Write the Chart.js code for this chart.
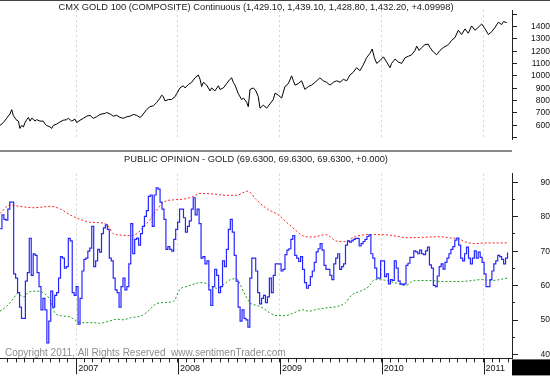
<!DOCTYPE html>
<html><head><meta charset="utf-8">
<script src="https://cdn.jsdelivr.net/npm/chart.js@4/dist/chart.umd.min.js"></script>
<style>
html,body{margin:0;padding:0;background:#fff;}
#wrap{position:relative;width:550px;height:382px;overflow:hidden;background:#fff;}
#c1{position:absolute;left:0;top:0;width:550px;height:150px;}
#c2{position:absolute;left:0;top:150px;width:550px;height:232px;}
</style></head><body>
<div id="wrap"><canvas id="c1" width="550" height="150"></canvas><canvas id="c2" width="550" height="232"></canvas></div>
<script>
// ---------------- DATA ----------------
const startDate = [2006, 3, 3];            // first weekly observation (3 Apr 2006)
const endWeek = 262.3;                     // right edge of the time axis, in weeks
const yearLabels = ['2007', '2008', '2009', '2010', '2011'];
const goldTitle = 'CMX GOLD 100 (COMPOSITE) Continuous (1,429.10, 1,439.10, 1,428.80, 1,432.20, +4.09998)';
const opinionTitle = 'PUBLIC OPINION - GOLD (69.6300, 69.6300, 69.6300, +0.000)';
const copyright = 'Copyright 2011, All Rights Reserved  www.sentimenTrader.com';

const goldWeek = [0,1.7,3.4,5.1,6,6.8,8.2,9.4,10.2,11.1,12,12.8,13.7,14.5,15.4,16.2,17.1,17.9,18.8,20.5,22.2,23.1,23.9,25.6,26.5,27.3,29,30.7,32.4,34.2,35,36.7,38.4,39.3,41,42.7,44.4,46.1,47.8,49.5,51.2,53.8,54.6,56.4,58.1,59.8,61.5,63.2,64.9,66.6,68.3,70,71.7,72.6,73.4,75.1,76.8,78.6,80.3,82,82.8,83.7,84.5,86.2,87.9,89.7,90.5,92.2,93.9,94.8,96.5,98.2,99.9,101.6,102.5,103.3,104.2,105.9,107.6,108.4,110.1,111.9,112.7,114.4,116.1,117.8,118.7,119.5,120.4,122.1,123.8,124.7,126.4,127.2,128.1,129.8,131.1,132.3,133.2,134.9,136.6,138.3,140,140.9,142.6,144.3,146,147.7,149.4,150.3,151.1,152.8,154.5,156.2,158,159.7,161.4,163.9,165.6,167.3,169.1,170.8,172.5,174.2,175.9,177.6,179.3,181,182.7,184.4,186.1,187.8,189.5,190.7,191.8,193,194.7,196.4,198.1,199.8,200.6,202.4,204.1,205.8,207.5,209.2,210.9,212.6,213.5,214.7,216,217.7,219.4,220.3,222,223.7,225.4,227.1,229.7,231.4,233.1,234.8,236.5,238.2,239.9,241.6,243.3,245,246.8,248.5,250.2,251.9,253.6,255.3,257,257.9,259.6];
const goldValue = [598,621,656,691,726,680,645,633,574,598,586,621,645,663,633,656,649,633,645,633,633,609,598,586,574,598,609,626,640,645,656,633,649,621,640,656,673,680,656,668,687,696,703,691,673,680,663,656,668,673,687,680,663,673,691,726,750,757,785,820,843,832,797,808,808,832,855,902,920,902,930,948,984,1007,972,914,948,925,878,902,878,920,890,902,937,972,984,948,925,855,808,820,785,750,890,902,878,832,738,762,738,773,808,860,843,820,914,937,1000,960,925,937,960,890,914,925,948,984,960,948,925,948,960,948,972,960,1007,1030,1066,1042,1089,1147,1182,1218,1147,1101,1124,1154,1112,1066,1101,1136,1112,1101,1147,1159,1171,1206,1241,1206,1229,1253,1257,1229,1194,1171,1206,1229,1253,1288,1311,1370,1335,1381,1346,1405,1370,1393,1421,1381,1335,1358,1393,1435,1416,1440,1432.2];

// weekly public opinion readings
const opinion = [
76.5,80.5,79.25,79,82.2,84.25,84.25,63.4,62.2,58,53.8,50.5,50.5,61.3,63.8,73.7,63,69.2,68.8,63.8,59.7,53,56.3,53,43.4,49.7,58.4,53.8,57.2,58,62.2,68.4,68,65.1,65.5,73.7,73,58,57.2,59.7,48.8,56.3,64.25,67.6,
68,70,70.9,77.2,65.5,67.2,70.5,69.7,75.1,76.75,77.6,76.3,68,67.2,62.2,58.8,58,53.8,59.7,62.2,58.8,59.7,66.3,78,69.25,73.4,73.8,71.75,75.1,77.2,80.1,81.75,85.9,86.3,77.2,86.3,88.4,88,84.25,82.2,79.25,70.5,71.3,70.5,
70,73.4,76.3,78.4,82.2,82.2,79.7,75.5,77.2,78.8,82.2,85.5,80.5,82.2,78,68,68.4,66.3,67.2,58.8,54.25,59.7,64.7,63,58,59.7,67.2,65.5,70.5,76.3,79.25,75.5,68.8,61.3,53.8,49.7,53,50.5,50.1,48,62.2,68,68,64.25,
58,54.7,56.3,57.2,55.1,56.75,62.2,58,63,66.3,66.3,66.3,64.25,64.7,69,70.3,70.7,73.4,74.5,68.8,68,67,68.4,64.7,60.9,59.25,60.1,62.6,64.25,66.75,69.8,70.7,72.2,70.3,65.9,64.7,64.7,63,61.75,66.3,68,69.25,64.7,65.5,
66.3,71.75,73,72.6,73,73.4,73.7,73.7,71.5,72.2,72.8,73.4,74.25,74.7,69.25,68,65.1,62.2,62.2,67.2,67.2,62.6,63.4,60.5,61.75,61.5,67.2,65.1,61.3,60.5,60.3,60.5,65.9,66.5,68.2,68.2,70.1,69.8,69.25,70.3,69.25,69,70.1,71.2,
66,65.1,60.1,59.7,62.8,65.5,66.3,64.8,66.75,68,69.25,70.5,71.3,73.2,73.8,71.75,68,67.2,69.25,71.2,68,66.3,68,70.1,68,69.7,68.2,66.75,63.4,59.7,59.7,61.75,64.25,66.3,67.2,68.8,68.4,67.6,66.3,68,69.63];

const upperWeek = [0,5,10,17,26,31,36,41,46,51,55,58,61,67,70,73,77,80,84,89,94,99,102,109,116,121,127,131,137,142,146,151,155,160,167,172,177,182,190,199,204,209,216,225,231,235,238,243,250,260];
const upperBand = [80.9,83.4,83,82.6,83,82.2,80.5,79.25,78.4,78.25,77.6,75.1,74.7,74.5,75,76.75,79.25,81.75,84.25,84.9,85.1,85.9,86.75,86.6,86.2,86.2,87.4,85.1,82.2,80.75,78.8,76.3,74.5,74.1,74.8,73,72.75,74.25,74.8,74.7,74.25,73.9,74,74.2,73.8,73.6,72.75,72.2,72.4,72.4];
const lowerWeek = [0,3,7,9,12,15,19,22,26,28,31,36,39,43,48,51,56,60,63,67,72,75,80,84,89,92,96,101,104,108,111,114,118,121,125,128,132,135,138,142,146,151,155,158,163,168,173,177,180,185,189,192,197,202,208,212,221,226,236,247,252,260];
const lowerBand = [52.6,53.8,56.3,57.75,56.75,58.2,58.4,58,55.5,52.2,51.3,50.9,49.7,49.25,49.25,49.1,49.7,50.25,50.1,50.7,51.2,52.2,54.7,55.1,55.5,58.8,59.8,60.7,60.9,59.8,59.25,60.1,61.75,62,58,55.1,54.2,53.4,52.2,51.3,51.3,52.2,53,52.6,53.2,53.6,54,55,57.2,58.5,59.8,61.75,61.6,60.9,60.1,61.4,61.5,61.2,61.2,61.75,61.5,62.2];

const goldRange = [480.7, 1533.3];
const goldTicks = [500,600,700,800,900,1000,1100,1200,1300,1400,1500];
const goldLabelRange = [600, 1400];
const opinionRange = [38.9, 92.5];
const opinionTicks = [40,50,60,70,80,90];
const opinionMinorTicks = [45,55,65,75,85];

// ---------------- derived ----------------
const WEEK = 7 * 864e5;
const t0 = Date.UTC(startDate[0], startDate[1], startDate[2]);
const yearWeeks = yearLabels.map(y => (Date.UTC(+y, 0, 1) - t0) / WEEK);
const monthWeeks = [];
for (let y = 2006; y <= 2011; y++) for (let m = 0; m < 12; m++) {
  const w = (Date.UTC(y, m, 1) - t0) / WEEK;
  if (w >= 0 && w <= endWeek) monthWeeks.push(w);
}
const yearIndex = v => yearWeeks.findIndex(w => Math.abs(w - v) < 1e-6);

const FONT = '"Liberation Sans", Arial, Helvetica, sans-serif';
const GRID = '#d2d2d2';
const AXIS = '#222';

Chart.defaults.font.family = FONT;

const xGrid = (showLabels, h) => ({
  type: 'linear', min: 0, max: endWeek, position: 'bottom',
  afterBuildTicks: s => { s.ticks = (showLabels ? monthWeeks : yearWeeks).map(v => ({ value: v })); },
  afterFit: s => { s.height = h; },
  ticks: {
    display: showLabels, autoSkip: false, maxRotation: 0, minRotation: 0,
    align: 'start', labelOffset: 2, padding: 1,
    font: { size: 9, family: FONT }, color: '#111',
    callback: v => { const i = yearIndex(v); return i >= 0 ? yearLabels[i] : ''; }
  },
  grid: {
    drawTicks: showLabels, tickLength: 4, tickColor: AXIS, tickWidth: 1, tickBorderDash: [],
    color: c => (c.tick && yearIndex(c.tick.value) >= 0) ? GRID : 'rgba(0,0,0,0)',
    lineWidth: 1
  },
  border: { display: showLabels, color: AXIS, width: 1, dash: [2, 3] }
});

const yAxis = (range, ticks, labelFilter, fontSize, pad, tickLen, weight, showLabels) => ({
  type: 'linear', position: 'right', min: range[0], max: range[1], weight: weight,
  afterBuildTicks: s => { s.ticks = ticks.map(v => ({ value: v })); },
  afterFit: s => { s.width = showLabels ? 38 : 0; },
  ticks: {
    display: showLabels, crossAlign: 'far', padding: pad,
    font: { size: fontSize, family: FONT }, color: '#111',
    callback: v => labelFilter(v) ? String(v) : ''
  },
  grid: { drawOnChartArea: false, drawTicks: true, tickLength: tickLen, tickColor: AXIS, tickWidth: 1 },
  border: { display: showLabels, color: AXIS, width: 1 }
});

const baseOpts = {
  responsive: false, animation: false, devicePixelRatio: 1,
  events: [],
  plugins: { legend: { display: false }, tooltip: { enabled: false }, title: { display: false } },
  elements: { point: { radius: 0 }, line: { tension: 0 } }
};

// ---------- top panel: gold ----------
const topDecor = {
  id: 'topDecor',
  afterDraw(chart) {
    const { ctx, chartArea } = chart;
    ctx.save();
    ctx.fillStyle = '#222';
    ctx.font = '9.3px ' + FONT;
    ctx.textAlign = 'center';
    ctx.textBaseline = 'alphabetic';
    ctx.fillText(goldTitle, (chartArea.left + chartArea.right) / 2, 10.3);
    ctx.strokeStyle = '#444';
    ctx.lineWidth = 1;
    ctx.beginPath(); ctx.moveTo(0, 0.5); ctx.lineTo(chart.width, 0.5); ctx.stroke();
    ctx.restore();
  }
};

new Chart(document.getElementById('c1'), {
  type: 'line',
  data: { datasets: [{
    data: goldWeek.map((w, i) => ({ x: w, y: goldValue[i] })),
    borderColor: '#000', borderWidth: 1, pointRadius: 0, yAxisID: 'y'
  }] },
  options: Object.assign({}, baseOpts, {
    layout: { padding: 0 },
    scales: {
      x: xGrid(false, 0),
      y: yAxis(goldRange, goldTicks, v => v >= goldLabelRange[0] && v <= goldLabelRange[1], 8.5, 5, 5, 1, true)
    }
  }),
  plugins: [topDecor]
});

// ---------- bottom panel: public opinion ----------
const bottomDecor = {
  id: 'bottomDecor',
  beforeDatasetsDraw(chart) {
    const { ctx, chartArea } = chart;
    ctx.save();
    ctx.fillStyle = '#8e8e8e';
    ctx.font = '10px ' + FONT;
    ctx.textAlign = 'left';
    ctx.textBaseline = 'alphabetic';
    ctx.fillText(copyright, 5, chartArea.bottom - 2);
    ctx.restore();
  },
  afterDraw(chart) {
    const { ctx, chartArea, scales } = chart;
    const x = scales.x;
    ctx.save();
    // divider between panels
    ctx.fillStyle = '#8a8a8a';
    ctx.fillRect(0, 0, chartArea.right, 2);
    // title
    ctx.fillStyle = '#222';
    ctx.font = '9.3px ' + FONT;
    ctx.textAlign = 'center';
    ctx.fillText(opinionTitle, (chartArea.left + chartArea.right) / 2, 11.7);
    // year separators in the date strip
    ctx.strokeStyle = AXIS; ctx.lineWidth = 1;
    yearWeeks.forEach(w => {
      const px = Math.round(x.getPixelForValue(w)) + 0.5;
      ctx.beginPath(); ctx.moveTo(px, x.top); ctx.lineTo(px, x.bottom); ctx.stroke();
    });
    // bottom-right corner block
    ctx.fillStyle = '#000';
    ctx.fillRect(chartArea.right, x.top + 1, chart.width - chartArea.right, x.bottom - x.top);
    ctx.restore();
  }
};

new Chart(document.getElementById('c2'), {
  type: 'line',
  data: { datasets: [
    { data: opinion.map((v, i) => ({ x: i, y: v })), borderColor: '#2626ff', borderWidth: 1.2, stepped: 'before', pointRadius: 0, yAxisID: 'y' },
    { data: upperWeek.map((w, i) => ({ x: w, y: upperBand[i] })), borderColor: '#ff2020', borderWidth: 1, borderDash: [2, 2], pointRadius: 0, yAxisID: 'y', cubicInterpolationMode: 'monotone' },
    { data: lowerWeek.map((w, i) => ({ x: w, y: lowerBand[i] })), borderColor: '#1e9e1e', borderWidth: 1, borderDash: [2, 2], pointRadius: 0, yAxisID: 'y', cubicInterpolationMode: 'monotone' }
  ] },
  options: Object.assign({}, baseOpts, {
    layout: { padding: { top: 2, left: 0, right: 0, bottom: 0 } },
    scales: {
      x: xGrid(true, 16),
      yMinor: yAxis(opinionRange, opinionMinorTicks, v => false, 8.5, 18.5, 3, 0, false),
      y: yAxis(opinionRange, opinionTicks, v => true, 8.5, 18.5, 6, 1, true)
    }
  }),
  plugins: [bottomDecor]
});
</script>
</body></html>
